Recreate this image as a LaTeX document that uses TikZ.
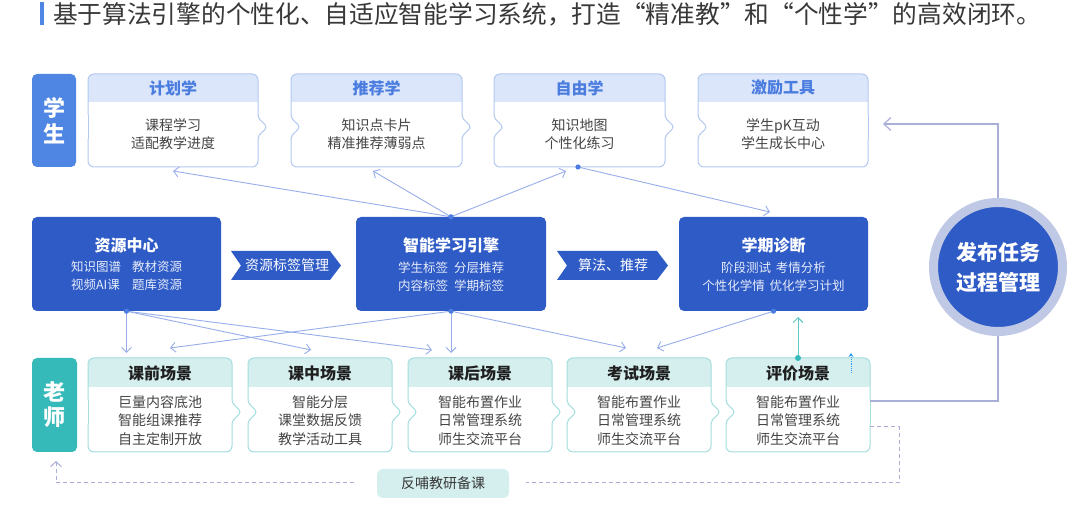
\documentclass[tikz,border=0pt]{standalone}
\usepackage{fontspec}
\setmainfont{Noto Sans CJK SC}
\usetikzlibrary{arrows.meta}
\definecolor{stublue}{HTML}{4F86E3}
\definecolor{stuborder}{HTML}{B3C9F2}
\definecolor{stuhead}{HTML}{DCE6FA}
\definecolor{stutitle}{HTML}{4A7DDF}
\definecolor{darkblue}{HTML}{2F5BC6}
\definecolor{tealc}{HTML}{36B9B9}
\definecolor{teaborder}{HTML}{A5DDDD}
\definecolor{teahead}{HTML}{D5EFEF}
\definecolor{conn}{HTML}{98AEEA}
\definecolor{dotc}{HTML}{4A7DDF}
\definecolor{ring}{HTML}{BFC9E6}
\definecolor{loopc}{HTML}{A9AFD7}
\definecolor{txt}{HTML}{454545}
\definecolor{titc}{HTML}{383838}
\definecolor{subw}{HTML}{E6ECFA}
\definecolor{smallblue}{HTML}{2A9BF0}
\newcommand\fs[2]{\fontsize{#1pt}{#2pt}\selectfont}
\def\cardhh{28}
% #1 x1, #2 y1, #3 x2, #4 y2, #5 yc, #6 left notch, #7 right bump, #8 colour prefix
\newcommand\card[8]{%
  \fill[#8head, rounded corners=6pt] (#1,#2) rectangle (#3,#2+\cardhh+12);
  \fill[white] (#1,#2+\cardhh) rectangle (#3,#2+\cardhh+14);
  \draw[#8border, line width=1pt, rounded corners=6pt] (#1,#5-12) -- (#1,#2) -- (#3,#2) -- (#3,#5-12);
  \draw[#8border, line width=1pt, rounded corners=6pt] (#3,#5+12) -- (#3,#4) -- (#1,#4) -- (#1,#5+12);
  \ifnum#7=1\relax
    \draw[#8border, line width=1pt] (#3,#5-12) .. controls (#3,#5-6) and (#3+8,#5-4) .. (#3+8,#5) .. controls (#3+8,#5+4) and (#3,#5+6) .. (#3,#5+12);
  \else
    \draw[#8border, line width=1pt] (#3,#5-12) -- (#3,#5+12);
  \fi
  \ifnum#6=1\relax
    \draw[#8border, line width=1pt] (#1,#5-12) .. controls (#1,#5-6) and (#1+8,#5-4) .. (#1+8,#5) .. controls (#1+8,#5+4) and (#1,#5+6) .. (#1,#5+12);
  \else
    \draw[#8border, line width=1pt] (#1,#5-12) -- (#1,#5+12);
  \fi
}
\tikzset{
  inv/.style={draw=none, inner sep=0pt},
  lab/.style={rounded corners=5pt, minimum width=44pt, minimum height=93pt, inner sep=0pt, align=center, text=white, font=\fs{22}{26}\bfseries},
  stutit/.style={inner sep=0pt, text=stutitle, font=\fs{16}{18}\bfseries},
  stubody/.style={inner sep=0pt, align=center, text=txt, font=\fs{14}{18}},
  teatit/.style={inner sep=0pt, text=black!88, font=\fs{16}{18}\bfseries},
  teabody/.style={inner sep=0pt, align=center, text=txt, font=\fs{14}{18.5}},
  dbox/.style={fill=darkblue, rounded corners=5pt, inner sep=0pt},
  dtit/.style={inner sep=0pt, text=white, font=\fs{16}{18}\bfseries},
  dsub/.style={inner sep=0pt, align=center, text=subw, font=\fs{12.5}{18}},
  chtext/.style={inner sep=0pt, text=white, font=\fs{14}{16}},
  cline/.style={conn, line width=0.9pt, -{Straight Barb[length=5pt,width=10pt]}},
  dotmark/.style={fill=dotc},
}
\newcommand\stucard[8]{%
  \card{#2}{74}{#3}{167}{127}{#4}{#5}{stu}
  \node[inv, minimum width={#3-#2}, minimum height=93] (#1) at ({(#2+#3)/2},120.5) {};
  \node[stutit] (#1t) at ({(#2+#3)/2},88) {#6};
  \node[stubody] (#1b) at ({(#2+#3)/2},134) {#7\\#8};
}
\newcommand\teacard[9]{%
  \card{#2}{358}{#3}{452}{412}{#4}{#5}{tea}
  \node[inv, minimum width={#3-#2}, minimum height=94] (#1) at ({(#2+#3)/2},405) {};
  \node[teatit] (#1t) at ({(#2+#3)/2},373) {#6};
  \node[teabody] (#1b) at ({(#2+#3)/2},420.5) {#7\\#8\\#9};
}
\begin{document}
\begin{tikzpicture}[x=1pt,y=-1pt]
\useasboundingbox (0,0) rectangle (1080,526);
\fill[white] (0,0) rectangle (1080,526);

% title
\fill[stublue] (40,2) rectangle (44,25);
\node[anchor=west, inner sep=0pt, text=titc, font=\fs{24.7}{28}] (title) at (53,14) {基于算法引擎的个性化、自适应智能学习系统，打造“精准教”和“个性学”的高效闭环。};

% student row
\node[lab, fill=stublue] (S) at (54,120.5) {学\\生};
\stucard{c1}{88}{258}{0}{1}{计划学}{课程学习}{适配教学进度}
\stucard{c2}{291}{462}{1}{1}{推荐学}{知识点卡片}{精准推荐薄弱点}
\stucard{c3}{494}{665}{1}{1}{自由学}{知识地图}{个性化练习}
\stucard{c4}{698}{868}{1}{0}{激励工具}{学生pK互动}{学生成长中心}

% teacher row
\def\cardhh{29}
\node[lab, fill=tealc, minimum width=45pt, minimum height=94pt, font=\fs{22}{25}\bfseries] (T) at (54.5,405) {老\\师};
\teacard{t1}{88}{232}{0}{1}{课前场景}{巨量内容底池}{智能组课推荐}{自主定制开放}
\teacard{t2}{248}{392}{1}{1}{课中场景}{智能分层}{课堂数据反馈}{教学活动工具}
\teacard{t3}{408}{552}{1}{1}{课后场景}{智能布置作业}{日常管理系统}{师生交流平台}
\teacard{t4}{567}{711}{1}{1}{考试场景}{智能布置作业}{日常管理系统}{师生交流平台}
\teacard{t5}{726}{870}{1}{0}{评价场景}{智能布置作业}{日常管理系统}{师生交流平台}

% middle row
\node[dbox, minimum width=189, minimum height=94] (R) at (126.5,264) {};
\node[dtit] (Rt) at (126.5,245) {资源中心};
\node[dsub] (Rs) at (126.5,277) {\begin{tabular}{@{}l@{\hspace{11pt}}l@{}}知识图谱&教材资源\\视频AI课&题库资源\end{tabular}};

\node[dbox, minimum width=190, minimum height=94] (E) at (451,264) {};
\node[dtit] (Et) at (451,245) {智能学习引擎};
\node[dsub] (Es) at (451,277) {学生标签\hspace{6pt}分层推荐\\内容标签\hspace{6pt}学期标签};

\node[dbox, minimum width=189, minimum height=94] (D) at (773.5,264) {};
\node[dtit] (Dt) at (773.5,245) {学期诊断};
\node[dsub] (Ds) at (773.5,277) {阶段测试\hspace{5pt}考情分析\\个性化学情\hspace{5pt}优化学习计划};

% chevrons
\fill[darkblue] (231,251) -- (330,251) -- (341,265.5) -- (330,280) -- (231,280) -- (241,265.5) -- cycle;
\node[chtext] (ch1) at (287,265.5) {资源标签管理};
\fill[darkblue] (557,251) -- (657,251) -- (668,265.5) -- (657,280) -- (557,280) -- (567,265.5) -- cycle;
\node[chtext] (ch2) at (613,265.5) {算法、推荐};

% circle
\coordinate (ct) at (998,198);
\coordinate (lt) at (998,124);
\coordinate (la) at (883,124);
\coordinate (cb) at (998,336);
\coordinate (lb) at (998,401);
\coordinate (pe) at (870,401);
\draw[loopc, line width=1.2pt, -{Straight Barb[length=7pt,width=13pt]}] (ct) -- (lt) -- (la);
\draw[loopc, line width=1.2pt] (cb) -- (lb) -- (pe);
\node[circle, fill=darkblue, draw=ring, line width=9pt, minimum size=129pt, inner sep=0pt, align=center, text=white, font=\fs{21}{30}\bfseries] (C) at (998,267) {发布任务\\过程管理};

% feedback box and dashed loop
\node[fill=teahead, rounded corners=6pt, minimum width=132pt, minimum height=29pt, inner sep=0pt, text=titc, font=\fs{14}{16}] (fb) at (443,483.5) {反哺教研备课};
\coordinate (q0) at (870,427);
\coordinate (q1) at (899,427);
\coordinate (q2) at (899,483);
\coordinate (q3) at (526,483);
\coordinate (q4) at (354,483);
\coordinate (q5) at (56,483);
\coordinate (q6) at (56,461);
\draw[loopc, dash pattern=on 4pt off 3pt, line width=1pt] (q0) -- (q1) -- (q2) -- (q3);
\draw[loopc, dash pattern=on 4pt off 3pt, line width=1pt, -{Straight Barb[length=5pt,width=11pt]}] (q4) -- (q5) -- (q6);

% connectors top
\coordinate (Etop) at (E.north);
\coordinate (a1) at (173,171);
\coordinate (a2) at (373,171);
\coordinate (a3) at (566,171);
\coordinate (Ftop) at (578,167);
\coordinate (a4) at (770,212);
\draw[cline] (Etop) -- (a1);
\draw[cline] (Etop) -- (a2);
\draw[cline] (Etop) -- (a3);
\draw[cline] (Ftop) -- (a4);
\fill[dotmark] (Etop) circle (2.6);
\fill[dotmark] (Ftop) circle (2.6);

% connectors bottom
\coordinate (Rb) at (R.south);
\coordinate (Eb) at (E.south);
\coordinate (Db) at (D.south);
\coordinate (b1) at (126.5,353);
\coordinate (b2) at (311,350);
\coordinate (b3) at (432,350);
\coordinate (b4) at (170,348);
\coordinate (b5) at (451,353);
\coordinate (b6) at (626,348);
\coordinate (b7) at (657,348);
\draw[cline] (Rb) -- (b1);
\draw[cline] (Rb) -- (b2);
\draw[cline] (Rb) -- (b3);
\draw[cline] (Eb) -- (b4);
\draw[cline] (Eb) -- (b5);
\draw[cline] (Eb) -- (b6);
\draw[cline] (Db) -- (b7);
\fill[dotmark] (Rb) circle (2.6);
\fill[dotmark] (Eb) circle (2.6);
\fill[dotmark] (Db) circle (2.6);

% teal arrow and small dotted arrow
\coordinate (Ptop) at (798,358);
\coordinate (b8) at (798,317);
\draw[tealc!80, line width=1pt, -{Straight Barb[length=5pt,width=10pt]}] (Ptop) -- (b8);
\fill[tealc] (Ptop) circle (3);
\coordinate (pd1) at (851,373);
\coordinate (pd2) at (851,353);
\draw[smallblue, line width=0.9pt, densely dotted, -{Stealth[length=4pt,width=5pt]}] (pd1) -- (pd2);
\end{tikzpicture}
\end{document}
